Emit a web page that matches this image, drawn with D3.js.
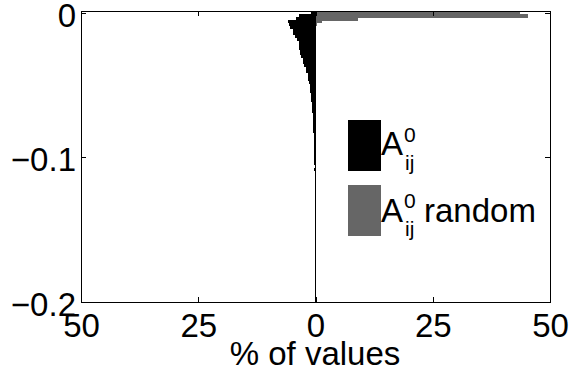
<!DOCTYPE html>
<html>
<head>
<meta charset="utf-8">
<script src="https://cdn.jsdelivr.net/npm/d3@7"></script>
<style>
  html, body { margin: 0; padding: 0; background: #fff; }
  svg { display: block; }
  text { font-family: "Liberation Sans", Arial, Helvetica, sans-serif; fill: #000; }
</style>
</head>
<body>
<svg id="chart" width="575" height="370"></svg>
<script>
// Histogram bin centres (bin width 0.002), from 0 downwards
const binWidth = 0.002;
const binCenters = d3.range(0, 57).map(i => -i * binWidth);

// Percentage of values per bin for the measured matrix (drawn to the left)
const realPct = [
  1.0, 3.6, 4.1, 5.8, 5.6, 5.4, 4.9, 4.7, 4.3, 3.9,
  3.6, 3.6, 3.5, 3.4, 3.2, 3.0, 2.7, 2.6, 2.4, 2.1,
  2.0, 1.7, 1.6, 1.5, 1.4, 1.25, 1.15, 1.1, 1.0, 0.95,
  0.9, 0.8, 0.75, 0.7, 0.7, 0.6, 0.6, 0.55, 0.5, 0.5,
  0.45, 0.45, 0.4, 0.4, 0.35, 0.35, 0.3, 0.3, 0.4, 0.3,
  0.25, 0.3, 0.25, 0.2, 0.3, 0.2, 0.2
];

// Percentage of values per bin for the randomised matrix (drawn to the right)
const randomPct = [43.7, 45.3, 9.1, 1.4, 0.3];

const xTicks = [-50, -25, 0, 25, 50];
const yTicks = [0, -0.1, -0.2];

const legendItems = [
  { label: "", color: "#000000" },
  { label: "random", color: "#666666" }
];

const svg = d3.select("#chart");
const plotLeft = 81, plotRight = 550, plotTop = 11, plotBottom = 302;

const x = d3.scaleLinear().domain([-50, 50]).range([plotLeft, plotRight]);
const y = d3.scaleLinear().domain([-0.2, 0.0013]).range([plotBottom, plotTop]);

const binTop = i => y(binCenters[i] + binWidth / 2);
const binBottom = i => y(binCenters[i] - binWidth / 2);

// Black bars: measured distribution, growing leftwards from 0
svg.append("g").attr("shape-rendering", "crispEdges").selectAll("rect")
  .data(realPct)
  .join("rect")
  .attr("x", d => x(-d))
  .attr("width", d => x(0) - x(-d))
  .attr("y", (d, i) => binTop(i))
  .attr("height", (d, i) => binBottom(i) - binTop(i) + 0.5)
  .attr("fill", "#000");

// Grey bars: random distribution, growing rightwards from 0
svg.append("g").attr("shape-rendering", "crispEdges").selectAll("rect")
  .data(randomPct)
  .join("rect")
  .attr("x", x(0))
  .attr("width", d => x(d) - x(0))
  .attr("y", (d, i) => binTop(i))
  .attr("height", (d, i) => binBottom(i) - binTop(i) + 0.5)
  .attr("fill", "#666666");

// Zero baseline
svg.append("line")
  .attr("x1", x(0)).attr("x2", x(0))
  .attr("y1", plotTop).attr("y2", plotBottom)
  .attr("stroke", "#000").attr("stroke-width", 1)
  .attr("shape-rendering", "crispEdges");

const fontSize = 33;
const tickLen = 5;

// Bottom axis with inward ticks
const xAxis = svg.append("g")
  .attr("transform", `translate(0,${plotBottom})`)
  .call(d3.axisBottom(x).tickValues(xTicks).tickSize(-tickLen).tickPadding(0)
    .tickFormat(d => Math.abs(d)));
xAxis.selectAll("text")
  .attr("y", 0).attr("dy", 34.5)
  .style("font-size", fontSize + "px");

// Top axis ticks
svg.append("g")
  .attr("transform", `translate(0,${plotTop})`)
  .call(d3.axisTop(x).tickValues(xTicks).tickSize(-tickLen).tickFormat(""));

// Left axis with inward ticks
const yAxis = svg.append("g")
  .attr("transform", `translate(${plotLeft},0)`)
  .call(d3.axisLeft(y).tickValues(yTicks).tickSize(-tickLen).tickPadding(5)
    .tickFormat(d => d === 0 ? "0" : d3.format(".1f")(d)));
yAxis.selectAll("text")
  .attr("dy", 13.5)
  .style("font-size", fontSize + "px");

// Right axis ticks
svg.append("g")
  .attr("transform", `translate(${plotRight},0)`)
  .call(d3.axisRight(y).tickValues(yTicks).tickSize(-tickLen).tickFormat(""));

svg.selectAll(".domain").remove();
svg.selectAll(".tick line").attr("stroke", "#000").attr("shape-rendering", "crispEdges");

// Axes box
svg.append("rect")
  .attr("x", plotLeft).attr("y", plotTop)
  .attr("width", plotRight - plotLeft).attr("height", plotBottom - plotTop)
  .attr("fill", "none").attr("stroke", "#000").attr("stroke-width", 1)
  .attr("shape-rendering", "crispEdges");

// X axis title
svg.append("text")
  .attr("x", 315).attr("y", 365)
  .attr("text-anchor", "middle")
  .style("font-size", fontSize + "px")
  .text("% of values");

// Legend
const legend = svg.append("g");
const rowTop = [120, 185];
const rowBase = [155, 221.7];
legendItems.forEach((item, i) => {
  legend.append("rect")
    .attr("x", 348).attr("y", rowTop[i])
    .attr("width", 33).attr("height", 51)
    .attr("fill", item.color);
  legend.append("text")
    .attr("x", 381).attr("y", rowBase[i])
    .style("font-size", fontSize + "px")
    .text("A");
  legend.append("text")
    .attr("x", 404).attr("y", rowBase[i] - 13.5)
    .style("font-size", "21px")
    .text("0");
  legend.append("text")
    .attr("x", 405).attr("y", rowBase[i] + 14.5)
    .style("font-size", "21px")
    .text("ij");
  if (item.label) {
    legend.append("text")
      .attr("x", 424).attr("y", rowBase[i])
      .style("font-size", fontSize + "px")
      .text(item.label);
  }
});
</script>
</body>
</html>
